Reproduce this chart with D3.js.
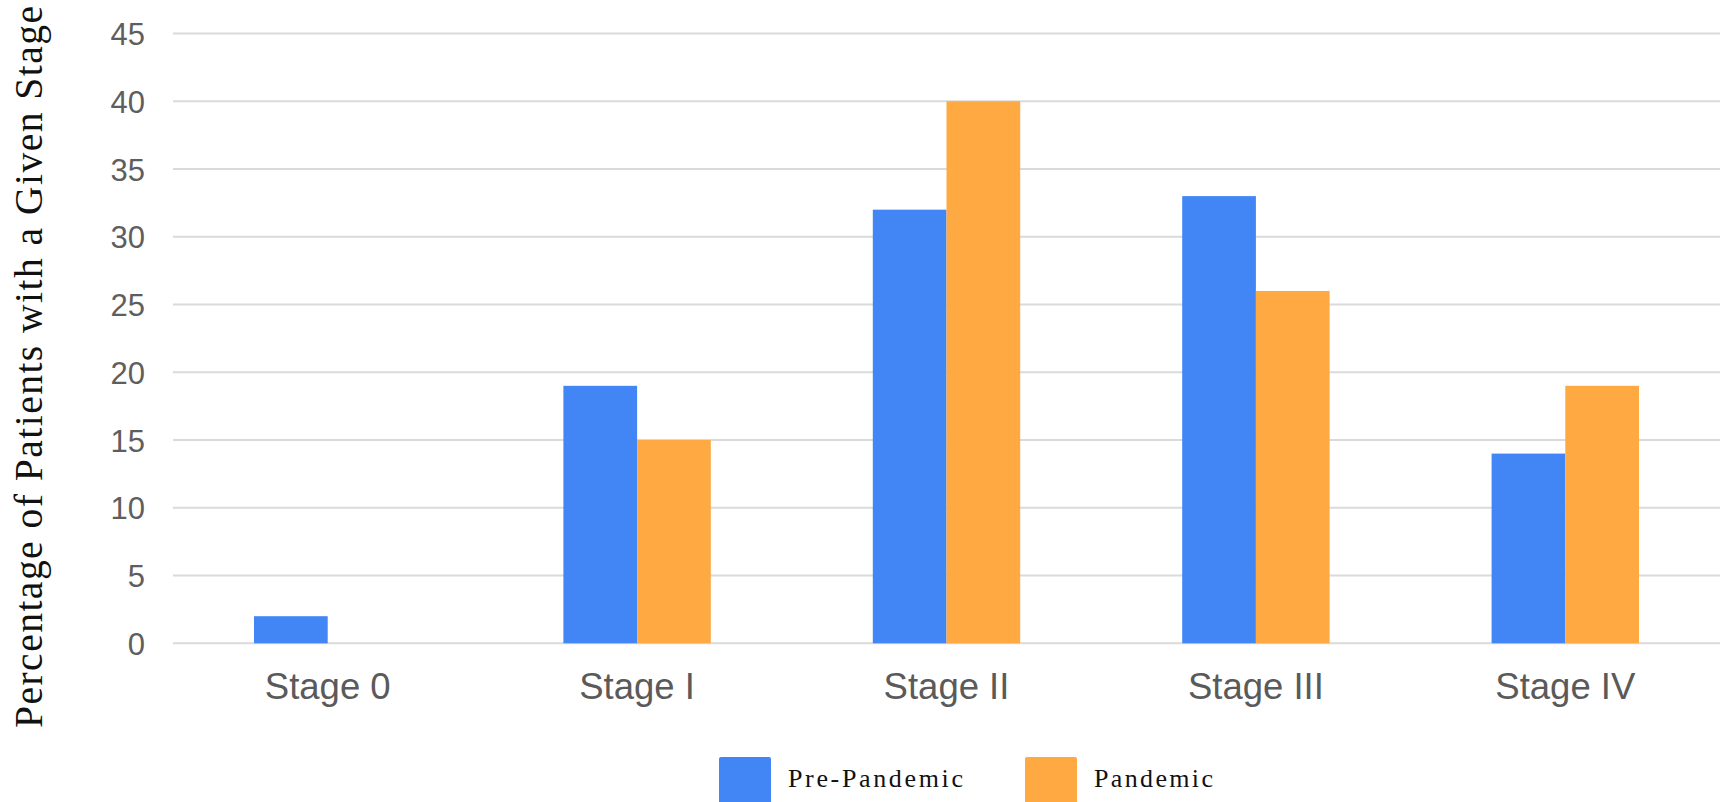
<!DOCTYPE html>
<html>
<head>
<meta charset="utf-8">
<script src="https://cdn.jsdelivr.net/npm/d3@7"></script>
<style>
  html, body { margin: 0; padding: 0; background: #ffffff; }
  svg { display: block; }
</style>
</head>
<body>
<svg id="chart" width="1720" height="802"></svg>
<script>
const categories = ["Stage 0", "Stage I", "Stage II", "Stage III", "Stage IV"];
const seriesNames = ["Pre-Pandemic", "Pandemic"];
const prePandemic = [2, 19, 32, 33, 14];
const pandemic = [0, 15, 40, 26, 19];
const yTicks = [0, 5, 10, 15, 20, 25, 30, 35, 40, 45];
const colors = ["#4285f4", "#fea942"];
const yTitle = "Percentage of Patients with a Given Stage";

const seriesValues = [prePandemic, pandemic];
const svg = d3.select("#chart");

const plotLeft = 173, plotRight = 1720, plotTop = 33.5, plotBottom = 643.3;

const x0 = d3.scaleBand().domain(categories).range([plotLeft, plotRight]).padding(0);
const bw = x0.bandwidth();
const x1 = d3.scaleBand().domain(seriesNames)
  .range([bw / 2 - bw * 0.2382, bw / 2 + bw * 0.2382]).padding(0);
const y = d3.scaleLinear().domain([0, 45]).range([plotBottom, plotTop]);

// gridlines
svg.append("g").selectAll("line").data(yTicks).join("line")
  .attr("x1", plotLeft).attr("x2", plotRight)
  .attr("y1", d => y(d)).attr("y2", d => y(d))
  .attr("stroke", "#dadada").attr("stroke-width", 2);

// y axis labels
const yAxis = d3.axisLeft(y).tickValues(yTicks).tickSize(0).tickPadding(0);
const gy = svg.append("g").attr("transform", `translate(145,0)`).call(yAxis);
gy.select(".domain").remove();
gy.selectAll("text")
  .attr("font-family", "'Liberation Sans', Arial, sans-serif")
  .attr("font-size", 31).attr("fill", "#5e5e5e").attr("dy", "0.36em");

// bars
const groups = svg.append("g").selectAll("g").data(categories).join("g")
  .attr("transform", d => `translate(${x0(d)},0)`);
groups.selectAll("rect")
  .data((c, i) => seriesNames.map((s, j) => ({ s, j, v: seriesValues[j][i] })))
  .join("rect")
  .attr("x", d => x1(d.s))
  .attr("width", x1.bandwidth())
  .attr("y", d => y(d.v))
  .attr("height", d => y(0) - y(d.v))
  .attr("fill", d => colors[d.j]);

// x axis labels
const xAxis = d3.axisBottom(x0).tickSize(0).tickPadding(0);
const gx = svg.append("g").attr("transform", `translate(0,699)`).call(xAxis);
gx.select(".domain").remove();
gx.selectAll("text")
  .attr("font-family", "'Liberation Sans', Arial, sans-serif")
  .attr("font-size", 36.5).attr("fill", "#5a5a5a").attr("dy", 0).attr("y", 0);

// y title
svg.append("text")
  .attr("transform", `translate(42,${(6 + 728) / 2}) rotate(-90)`)
  .attr("text-anchor", "middle")
  .attr("font-family", "'Liberation Serif', 'Times New Roman', serif")
  .attr("font-size", 39.5)
  .attr("fill", "#111")
  .attr("textLength", 722)
  .attr("lengthAdjust", "spacing")
  .text(yTitle);

// legend
const legendX = [719, 1025];
const legendTextLen = [175, 119];
const lg = svg.append("g").selectAll("g").data(seriesNames).join("g")
  .attr("transform", (d, i) => `translate(${legendX[i]},757)`);
lg.append("rect").attr("width", 52).attr("height", 52).attr("rx", 2)
  .attr("fill", (d, i) => colors[i]);
lg.append("text")
  .attr("x", 69).attr("y", 30)
  .attr("font-family", "'Liberation Serif', 'Times New Roman', serif")
  .attr("font-size", 26).attr("fill", "#111")
  .attr("textLength", (d, i) => legendTextLen[i])
  .attr("lengthAdjust", "spacing")
  .text(d => d);
</script>
</body>
</html>
